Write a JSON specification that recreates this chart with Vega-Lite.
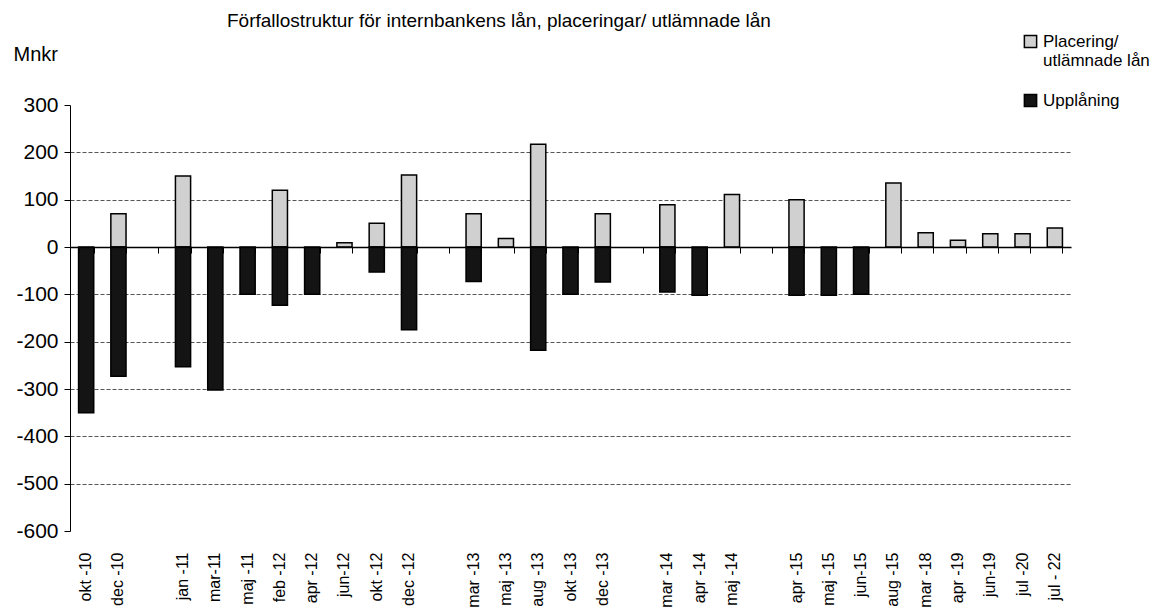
{
  "$schema": "https://vega.github.io/schema/vega-lite/v6.json",
  "width": 1001,
  "height": 426,
  "autosize": {"type": "none"},
  "padding": {"left": 70, "top": 105, "right": 84, "bottom": 81},
  "background": "white",
  "config": {
    "font": "Liberation Sans",
    "view": {"stroke": null},
    "axis": {"labelColor": "black", "titleColor": "black", "domainColor": "black", "tickColor": "black"}
  },
  "title": {
    "text": "Förfallostruktur för internbankens lån, placeringar/ utlämnade lån",
    "anchor": "start",
    "frame": "group",
    "dx": 157,
    "dy": 2,
    "fontSize": 19,
    "fontWeight": "normal",
    "color": "black"
  },
  "data": {
    "values": [
      {"period": "okt -10", "series": "Upplåning", "value": -350},
      {"period": "dec -10", "series": "Placering/ utlämnade lån", "value": 70},
      {"period": "dec -10", "series": "Upplåning", "value": -273},
      {"period": "jan -11", "series": "Placering/ utlämnade lån", "value": 150},
      {"period": "jan -11", "series": "Upplåning", "value": -253},
      {"period": "mar-11", "series": "Upplåning", "value": -302},
      {"period": "maj -11", "series": "Upplåning", "value": -100},
      {"period": "feb -12", "series": "Placering/ utlämnade lån", "value": 120},
      {"period": "feb -12", "series": "Upplåning", "value": -123},
      {"period": "apr -12", "series": "Upplåning", "value": -100},
      {"period": "jun-12", "series": "Placering/ utlämnade lån", "value": 9},
      {"period": "okt -12", "series": "Placering/ utlämnade lån", "value": 50},
      {"period": "okt -12", "series": "Upplåning", "value": -53},
      {"period": "dec -12", "series": "Placering/ utlämnade lån", "value": 152},
      {"period": "dec -12", "series": "Upplåning", "value": -175},
      {"period": "mar -13", "series": "Placering/ utlämnade lån", "value": 70},
      {"period": "mar -13", "series": "Upplåning", "value": -73},
      {"period": "maj -13", "series": "Placering/ utlämnade lån", "value": 18},
      {"period": "aug -13", "series": "Placering/ utlämnade lån", "value": 217},
      {"period": "aug -13", "series": "Upplåning", "value": -218},
      {"period": "okt -13", "series": "Upplåning", "value": -100},
      {"period": "dec -13", "series": "Placering/ utlämnade lån", "value": 70},
      {"period": "dec -13", "series": "Upplåning", "value": -74},
      {"period": "mar -14", "series": "Placering/ utlämnade lån", "value": 89},
      {"period": "mar -14", "series": "Upplåning", "value": -95},
      {"period": "apr -14", "series": "Upplåning", "value": -102},
      {"period": "maj -14", "series": "Placering/ utlämnade lån", "value": 111},
      {"period": "apr -15", "series": "Placering/ utlämnade lån", "value": 100},
      {"period": "apr -15", "series": "Upplåning", "value": -102},
      {"period": "maj -15", "series": "Upplåning", "value": -102},
      {"period": "jun-15", "series": "Upplåning", "value": -100},
      {"period": "aug -15", "series": "Placering/ utlämnade lån", "value": 135},
      {"period": "mar -18", "series": "Placering/ utlämnade lån", "value": 30},
      {"period": "apr -19", "series": "Placering/ utlämnade lån", "value": 14},
      {"period": "jun-19", "series": "Placering/ utlämnade lån", "value": 28},
      {"period": "jul -20", "series": "Placering/ utlämnade lån", "value": 28},
      {"period": "jul - 22", "series": "Placering/ utlämnade lån", "value": 40}
    ]
  },
  "resolve": {"axis": {"x": "independent"}},
  "layer": [
    {
      "mark": {"type": "bar", "stroke": "black", "strokeWidth": 1.5},
      "encoding": {
        "x": {
          "field": "period",
          "type": "nominal",
          "sort": null,
          "scale": {
            "domain": ["okt -10", "dec -10", " ", "jan -11", "mar-11", "maj -11", "feb -12", "apr -12", "jun-12", "okt -12", "dec -12", "  ", "mar -13", "maj -13", "aug -13", "okt -13", "dec -13", "   ", "mar -14", "apr -14", "maj -14", "    ", "apr -15", "maj -15", "jun-15", "aug -15", "mar -18", "apr -19", "jun-19", "jul -20", "jul - 22"],
            "paddingInner": 0.53,
            "paddingOuter": 0.265
          },
          "axis": {
            "orient": "top",
            "offset": -142,
            "title": null,
            "labels": false,
            "domain": true,
            "domainColor": "black",
            "domainWidth": 1.5,
            "ticks": true,
            "tickBand": "extent",
            "tickSize": -6,
            "tickWidth": 1,
            "tickColor": "black",
            "grid": false,
            "zindex": 1
          }
        },
        "y": {
          "field": "value",
          "type": "quantitative",
          "stack": "zero",
          "scale": {"domain": [-600, 300], "nice": false, "zero": false},
          "axis": {
            "title": "Mnkr",
            "titleAngle": 0,
            "titleAlign": "left",
            "titleBaseline": "alphabetic",
            "titleX": -57,
            "titleY": -45,
            "titleFontSize": 20,
            "titleFontWeight": "normal",
            "values": [300, 200, 100, 0, -100, -200, -300, -400, -500, -600],
            "labelExpr": "replace(datum.label, '−', '-')",
            "labelFontSize": 21,
            "labelPadding": 6,
            "tickSize": 6,
            "domain": true,
            "domainWidth": 1,
            "grid": true,
            "gridColor": "#555555",
            "gridDash": [4, 2],
            "gridWidth": 1,
            "gridOpacity": {"condition": {"test": "datum.value == 300 || datum.value == -600 || datum.value == 0", "value": 0}, "value": 1}
          }
        },
        "color": {
          "field": "series",
          "type": "nominal",
          "scale": {"domain": ["Placering/ utlämnade lån", "Upplåning"], "range": ["#d0d0d0", "#141414"]},
          "legend": {
            "orient": "none",
            "legendX": 952,
            "legendY": -72,
            "title": null,
            "symbolType": "square",
            "symbolSize": 150,
            "symbolStrokeColor": "black",
            "symbolStrokeWidth": 1.5,
            "labelFontSize": 17,
            "labelColor": "black",
            "rowPadding": 22,
            "labelExpr": "datum.label == 'Placering/ utlämnade lån' ? ['Placering/', 'utlämnade lån'] : datum.label"
          }
        }
      }
    },
    {
      "mark": {"type": "point", "opacity": 0},
      "encoding": {
        "x": {
          "field": "period",
          "type": "nominal",
          "axis": {
            "orient": "bottom",
            "title": null,
            "labelAngle": -90,
            "labelAlign": "right",
            "labelBaseline": "middle",
            "domain": false,
            "ticks": false,
            "tickSize": 0,
            "labelPadding": 21,
            "labelFontSize": 16,
            "grid": false
          }
        },
        "y": {"datum": 0}
      }
    }
  ]
}
